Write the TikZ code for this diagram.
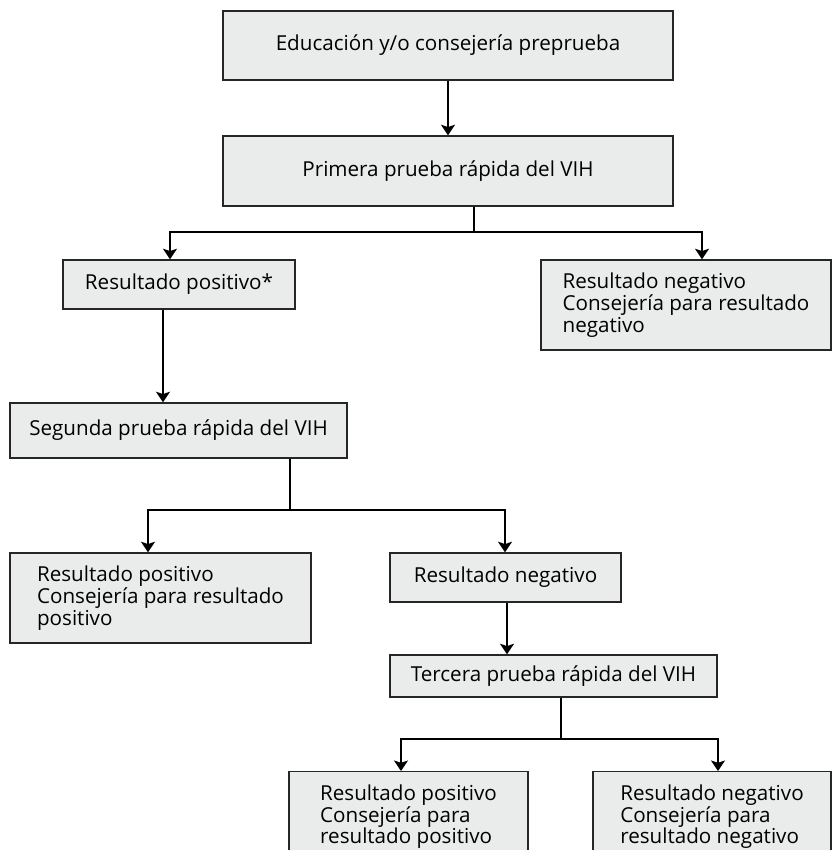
\documentclass[tikz,border=0pt]{standalone}
\usepackage{fontspec}
\setmainfont{Open Sans}
\usetikzlibrary{arrows.meta}
\definecolor{boxgray}{RGB}{234,235,235}
\tikzset{
  caja/.style={draw=black!85, fill=boxgray, line width=1.2pt, align=left,
    inner sep=0pt, font=\fontsize{17.6}{18.5}\selectfont},
  linea/.style={line width=1.1pt},
  flecha/.style={line width=1.1pt, -{Stealth[width=12pt,length=9pt,inset=2pt]}}
}

\begin{document}
\begin{tikzpicture}[x=0.03cm,y=-0.03cm]
\clip (0,0) rectangle (832,850);
\fill[white] (0,0) rectangle (832,850);
% cajas
\node[caja, minimum width=13.5cm, minimum height=2.07cm] (edu) at (448,45.5) {Educación y/o consejería preprueba};
\node[caja, minimum width=13.5cm, minimum height=2.1cm] (prim) at (448,171) {Primera prueba rápida del VIH};
\node[caja, minimum width=6.96cm, minimum height=1.47cm] (pos1) at (179,284.5) {Resultado positivo*};
\node[caja, minimum width=8.7cm, minimum height=2.7cm] (neg1) at (686,305) {Resultado negativo\\Consejería para resultado\\negativo};
\node[caja, minimum width=10.11cm, minimum height=1.65cm] (seg) at (178.5,430.5) {Segunda prueba rápida del VIH};
\node[caja, minimum width=9.03cm, minimum height=2.7cm] (pos2) at (160.5,598) {Resultado positivo\\Consejería para resultado\\positivo};
\node[caja, minimum width=6.93cm, minimum height=1.47cm] (neg2) at (505.5,577.5) {Resultado negativo};
\node[caja, minimum width=9.81cm, minimum height=1.26cm] (ter) at (553.5,676) {Tercera prueba rápida del VIH};
\node[caja, minimum width=7.17cm, minimum height=2.7cm, anchor=north] (pos3) at (408.5,771) {Resultado positivo\\Consejería para\\resultado positivo};
\node[caja, minimum width=7.14cm, minimum height=2.7cm, anchor=north] (neg3) at (712,771) {Resultado negativo\\Consejería para\\resultado negativo};
% conectores
\coordinate (r1) at (474,232);
\coordinate (r1a) at (170,232);
\coordinate (r1b) at (702,232);
\coordinate (r2) at (163,350);
\coordinate (r3) at (290,510);
\coordinate (r3a) at (148,510);
\coordinate (r3b) at (505,510);
\coordinate (r4) at (507,630);
\coordinate (r5) at (561,739);
\coordinate (r5a) at (401,739);
\coordinate (r5b) at (718,739);

\draw[flecha] (edu) -- (prim);
\draw[linea] (prim.south -| r1) -- (r1);
\draw[flecha] (r1) -| (r1a |- pos1.north);
\draw[flecha] (r1) -| (r1b |- neg1.north);
\draw[flecha] (pos1.south -| r2) -- (seg.north -| r2);
\draw[linea] (seg.south -| r3) -- (r3);
\draw[flecha] (r3) -| (r3a |- pos2.north);
\draw[flecha] (r3) -| (r3b |- neg2.north);
\draw[flecha] (neg2.south -| r4) -- (ter.north -| r4);
\draw[linea] (ter.south -| r5) -- (r5);
\draw[flecha] (r5) -| (r5a |- pos3.north);
\draw[flecha] (r5) -| (r5b |- neg3.north);
\end{tikzpicture}
\end{document}
